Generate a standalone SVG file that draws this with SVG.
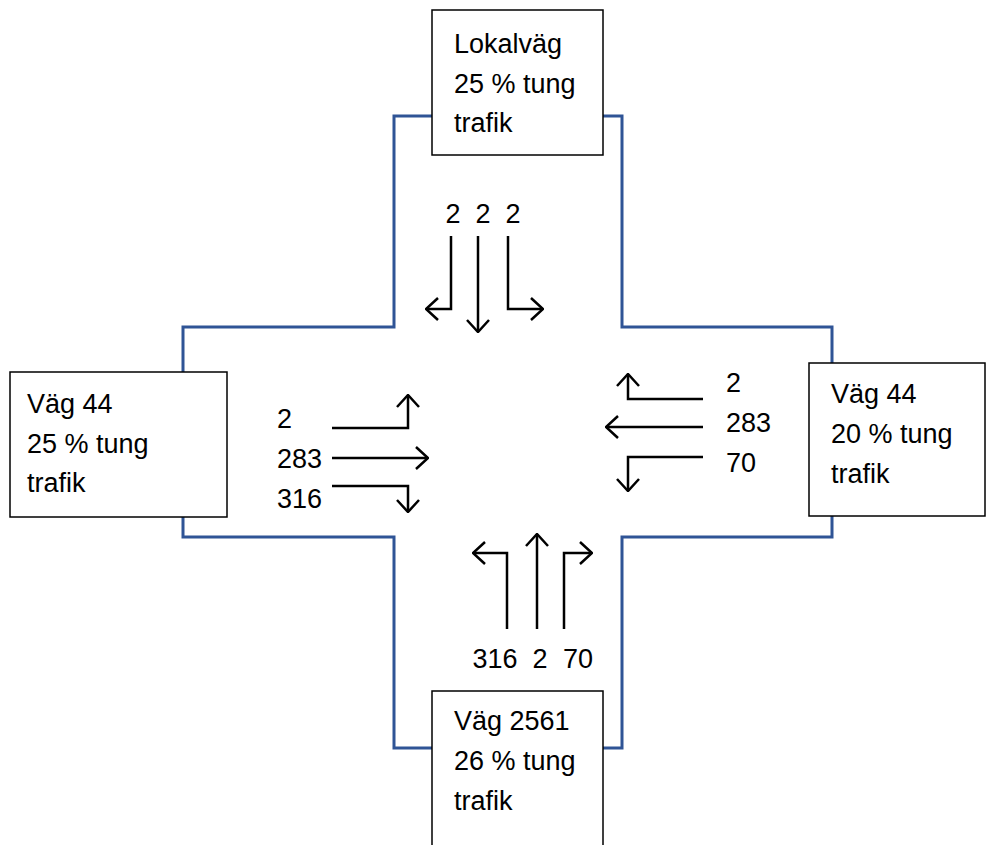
<svg xmlns="http://www.w3.org/2000/svg" width="986" height="845" viewBox="0 0 986 845">
<style>
.road{fill:none;stroke:#2F5496;stroke-width:3}
.box{fill:#fff;stroke:#000;stroke-width:1.5}
.t{font-family:"Liberation Sans",Arial,sans-serif;font-size:27px;fill:#000}
.m{text-anchor:middle}
.arr{fill:none;stroke:#000;stroke-width:2.5;marker-end:url(#ah)}
</style>
<defs>
<marker id="ah" markerUnits="userSpaceOnUse" viewBox="0 0 14 24" refX="13" refY="12" markerWidth="14" markerHeight="24" orient="auto">
<path d="M1,1 L13,12 L1,23" fill="none" stroke="#000" stroke-width="2.5"/>
</marker>
</defs>
<rect width="986" height="845" fill="#fff"/>
<path id="road" class="road" d="M394,116 L394,327 L183,327 L183,537 L394,537 L394,748 L622,748 L622,537 L832,537 L832,327 L622,327 L622,116 Z"/>
<g id="connectors">
<path class="arr" d="M451,236 L451,309 L426,309"/>
<path class="arr" d="M478,236 L478,332"/>
<path class="arr" d="M508,236 L508,309 L543,309"/>
<path class="arr" d="M332,428 L408,428 L408,395"/>
<path class="arr" d="M332,458 L428,458"/>
<path class="arr" d="M332,486 L408,486 L408,512"/>
<path class="arr" d="M703,399 L628,399 L628,374"/>
<path class="arr" d="M703,427 L606,427"/>
<path class="arr" d="M703,457 L628,457 L628,491"/>
<path class="arr" d="M507,629 L507,553 L473,553"/>
<path class="arr" d="M537,629 L537,534"/>
<path class="arr" d="M564,629 L564,553 L592,553"/>
</g>
<g id="labels">
<text class="t m" x="453" y="223">2</text>
<text class="t m" x="483" y="223">2</text>
<text class="t m" x="513" y="223">2</text>
<text class="t" x="277" y="428">2</text>
<text class="t" x="277" y="468">283</text>
<text class="t" x="277" y="508">316</text>
<text class="t" x="726" y="392">2</text>
<text class="t" x="726" y="432">283</text>
<text class="t" x="726" y="472">70</text>
<text class="t m" x="495" y="668">316</text>
<text class="t m" x="540" y="668">2</text>
<text class="t m" x="578" y="668">70</text>
</g>
<g id="node-north">
<rect class="box" x="432" y="10" width="171" height="145"/>
<text class="t" x="454" y="53">Lokalväg</text>
<text class="t" x="454" y="93">25 % tung</text>
<text class="t" x="454" y="132">trafik</text>
</g>
<g id="node-west">
<rect class="box" x="10" y="372" width="217" height="145"/>
<text class="t" x="27" y="413">Väg 44</text>
<text class="t" x="27" y="453">25 % tung</text>
<text class="t" x="27" y="492">trafik</text>
</g>
<g id="node-east">
<rect class="box" x="809" y="363" width="176" height="153"/>
<text class="t" x="831" y="403">Väg 44</text>
<text class="t" x="831" y="443">20 % tung</text>
<text class="t" x="831" y="483">trafik</text>
</g>
<g id="node-south">
<rect class="box" x="432" y="691" width="171" height="160"/>
<text class="t" x="454" y="730">Väg 2561</text>
<text class="t" x="454" y="770">26 % tung</text>
<text class="t" x="454" y="810">trafik</text>
</g>
</svg>
